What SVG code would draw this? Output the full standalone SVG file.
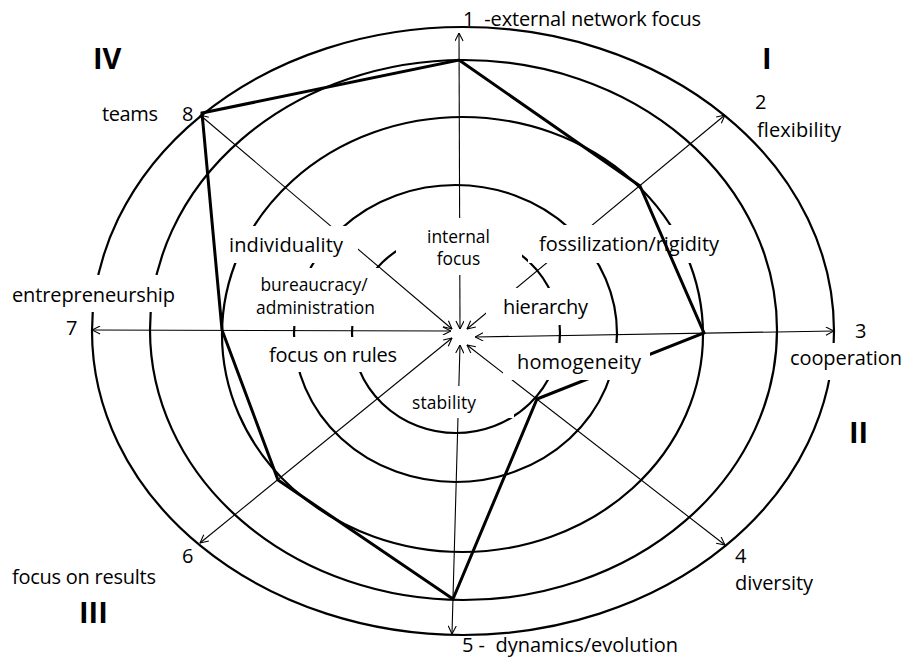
<svg xmlns="http://www.w3.org/2000/svg" width="904" height="658" viewBox="0 0 904 658">
<style>
.ring{fill:none;stroke:#000;stroke-width:2.2}
.axis{fill:none;stroke:#000;stroke-width:1.1;marker-start:url(#ah);marker-end:url(#ah)}
.poly{fill:none;stroke:#000;stroke-width:3;stroke-linejoin:miter}
.bg{fill:#fff;stroke:none}
.t{font-family:"Open Sans","Noto Sans",sans-serif;font-size:20px;fill:#000}
.s{font-size:17.4px}
.q{font-family:"Open Sans","Noto Sans",sans-serif;font-size:29px;font-weight:bold;fill:#000}
</style>
<defs>
<marker id="ah" viewBox="0 0 10 10" refX="9.5" refY="5" markerWidth="9" markerHeight="9" markerUnits="userSpaceOnUse" orient="auto-start-reverse">
<path d="M0.5,0.5 L9.5,5 L0.5,9.5" fill="none" stroke="#000" stroke-width="1.2"/>
</marker>
</defs>
<rect width="904" height="658" fill="#fff"/>
<g id="rings">
<ellipse class="ring" cx="463" cy="331" rx="371" ry="304"/>
<ellipse class="ring" cx="463.5" cy="330" rx="313.5" ry="270"/>
<ellipse class="ring" cx="462.5" cy="334.5" rx="240.5" ry="217.5"/>
<ellipse class="ring" cx="455.5" cy="333.5" rx="161.5" ry="148.5"/>
<ellipse class="ring" cx="456" cy="333" rx="104" ry="100"/>
</g>
<g id="connectors">
<line class="axis" x1="459" y1="33" x2="460" y2="329"/>
<line class="axis" x1="725" y1="115" x2="467" y2="329"/>
<line class="axis" x1="834" y1="331" x2="475" y2="337"/>
<line class="axis" x1="725" y1="545" x2="467" y2="345"/>
<line class="axis" x1="452" y1="634" x2="460" y2="345"/>
<line class="axis" x1="200" y1="543" x2="452" y2="338"/>
<line class="axis" x1="92" y1="330" x2="451" y2="331"/>
<line class="axis" x1="200" y1="115" x2="452" y2="329"/>
</g>
<g id="fossilization">
<rect class="bg" x="528" y="225" width="196" height="38"/>
<text class="t" x="539" y="251" textLength="180">fossilization/rigidity</text>
</g>
<g id="profile">
<polygon class="poly" points="459,60 640,186 704,333 537,399 453,599 278,480 222,330 202,113"/>
</g>
<g id="individuality">
<rect class="bg" x="224" y="226" width="134" height="37"/>
<text class="t" x="229" y="252" textLength="114">individuality</text>
</g>
<g id="internal-focus">
<rect class="bg" x="396" y="218" width="126" height="57"/>
<text class="t s" text-anchor="middle"><tspan x="458.5" y="243">internal</tspan><tspan x="458.5" y="265">focus</tspan></text>
</g>
<g id="bureaucracy">
<rect class="bg" x="250" y="268" width="130" height="58"/>
<text class="t s" text-anchor="middle"><tspan x="314" y="291">bureaucracy/</tspan><tspan x="315.5" y="314">administration</tspan></text>
</g>
<g id="focus-on-rules">
<rect class="bg" x="262" y="337" width="143" height="35"/>
<text class="t" x="269" y="362" textLength="128">focus on rules</text>
</g>
<g id="stability">
<rect class="bg" x="403" y="386" width="111" height="32"/>
<text class="t s" x="412" y="409" textLength="64">stability</text>
</g>
<g id="hierarchy">
<rect class="bg" x="486" y="288" width="114" height="37"/>
<text class="t" x="503" y="314" textLength="85">hierarchy</text>
</g>
<g id="homogeneity">
<rect class="bg" x="503" y="343" width="147" height="37"/>
<text class="t" x="517" y="369" textLength="124">homogeneity</text>
</g>
<g id="axis1">
<text class="t" x="463" y="26" xml:space="preserve" textLength="238">1  -external network focus</text>
</g>
<g id="axis2">
<text class="t" x="755" y="109">2</text>
<text class="t" x="757" y="137" textLength="84">flexibility</text>
</g>
<g id="axis3">
<rect class="bg" x="785" y="343" width="119" height="37"/>
<text class="t" x="855" y="338" font-size="18">3</text>
<text class="t" x="790" y="365" textLength="112">cooperation</text>
</g>
<g id="axis4">
<text class="t" x="735" y="563">4</text>
<text class="t" x="735" y="590" textLength="78">diversity</text>
</g>
<g id="axis5">
<text class="t" x="462" y="652" xml:space="preserve" textLength="216">5 -  dynamics/evolution</text>
</g>
<g id="axis6">
<text class="t" x="182" y="563">6</text>
<text class="t" x="12" y="584" textLength="144">focus on results</text>
</g>
<g id="axis7">
<rect class="bg" x="5" y="275" width="175" height="37"/>
<text class="t" x="12" y="302" textLength="163">entrepreneurship</text>
<text class="t" x="66" y="335">7</text>
</g>
<g id="axis8">
<text class="t" x="102" y="121" textLength="56">teams</text>
<text class="t" x="182" y="121">8</text>
</g>
<g id="quadrants">
<text class="q" x="93" y="69">IV</text>
<text class="q" x="762" y="69">I</text>
<text class="q" x="849" y="443">II</text>
<text class="q" x="79" y="623">III</text>
</g>
</svg>
